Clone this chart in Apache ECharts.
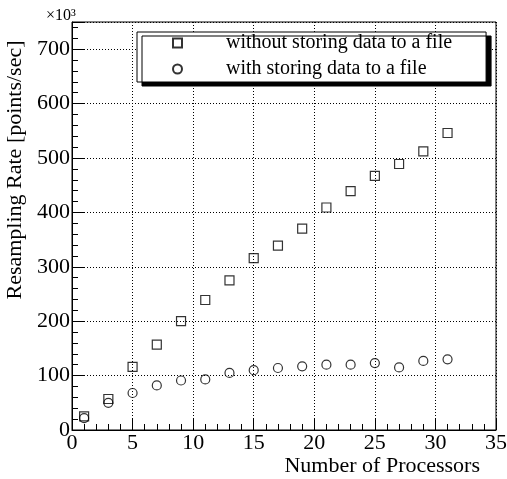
<!DOCTYPE html>
<html>
<head>
<meta charset="utf-8">
<script src="https://cdn.jsdelivr.net/npm/echarts@6/dist/echarts.min.js"></script>
<style>
  html, body { margin: 0; padding: 0; background: #fff; }
  #chart { width: 507px; height: 479px; }
</style>
</head>
<body>
<div id="chart"></div>
<script>
// number of processors used
const processors = [1, 3, 5, 7, 9, 11, 13, 15, 17, 19, 21, 23, 25, 27, 29, 31];

// resampling rate in units of 10^3 points/sec
const rateNoStore = [25, 57, 116, 157, 200, 239, 275, 316, 339, 370, 409, 439, 467, 489, 512, 546];
const rateStore = [22, 50, 68, 82, 91, 93, 105, 110, 114, 117, 120, 120, 123, 115, 127, 130];

const seriesNames = ['without storing data to a file', 'with storing data to a file'];

const font = 'Liberation Serif';

const chart = echarts.init(document.getElementById('chart'));

const toPairs = (ys) => processors.map((x, i) => [x, ys[i]]);

const markerStyle = {
  color: 'rgba(0,0,0,0)',
  borderColor: '#000',
  borderWidth: 1.2,
};

const option = {
  animation: false,
  backgroundColor: '#fff',
  title: {
    text: '×10³',
    left: 41,
    top: 3,
    textStyle: { fontFamily: font, fontSize: 16, fontWeight: 'normal', color: '#000' },
  },
  grid: {
    left: 72,
    right: 11,
    top: 22,
    bottom: 49,
    outerBoundsMode: 'none',
    containLabel: false,
    show: true,
    borderColor: '#000',
    borderWidth: 1,
  },
  legend: {
    orient: 'vertical',
    left: 137,
    top: 32,
    padding: [1, 34, 3, 35],
    itemGap: 6,
    itemWidth: 9,
    itemHeight: 9,
    backgroundColor: '#fff',
    borderColor: '#000',
    borderWidth: 1,
    shadowColor: '#000',
    shadowBlur: 0,
    shadowOffsetX: 5,
    shadowOffsetY: 4,
    textStyle: {
      fontFamily: font,
      fontSize: 20,
      color: '#000',
      lineHeight: 20,
      padding: [0, 0, 0, 39],
    },
    data: seriesNames,
  },
  xAxis: {
    type: 'value',
    min: 0,
    max: 35,
    interval: 5,
    name: 'Number of Processors',
    nameLocation: 'end',
    nameGap: -16,
    nameTextStyle: {
      fontFamily: font,
      fontSize: 22,
      color: '#000',
      align: 'right',
      verticalAlign: 'top',
      padding: [25, 0, 0, 0],
    },
    axisLine: { lineStyle: { color: '#000', width: 1 } },
    axisTick: { inside: true, length: 12, lineStyle: { color: '#000' } },
    minorTick: { show: true, splitNumber: 5, length: 6, lineStyle: { color: '#000' } },
    axisLabel: { fontFamily: font, fontSize: 22, color: '#000', margin: 2 },
    splitLine: { show: true, lineStyle: { color: '#000', type: [1, 2], width: 1 } },
  },
  yAxis: {
    type: 'value',
    min: 0,
    max: 750,
    interval: 100,
    name: 'Resampling Rate [points/sec]',
    nameLocation: 'middle',
    nameGap: 40,
    nameRotate: 90,
    nameTextStyle: {
      fontFamily: font,
      fontSize: 22,
      color: '#000',
      padding: [0, 0, 0, 112],
    },
    axisLine: { show: true, lineStyle: { color: '#000', width: 1 } },
    axisTick: { show: true, inside: true, length: 13, lineStyle: { color: '#000' } },
    minorTick: { show: true, splitNumber: 5, length: 6, lineStyle: { color: '#000' } },
    axisLabel: {
      fontFamily: font,
      fontSize: 22,
      color: '#000',
      margin: 2,
      showMaxLabel: false,
    },
    splitLine: { show: true, lineStyle: { color: '#000', type: [1, 2], width: 1 } },
  },
  series: [
    {
      name: seriesNames[0],
      type: 'scatter',
      symbol: 'rect',
      symbolSize: 9,
      itemStyle: markerStyle,
      data: toPairs(rateNoStore),
    },
    {
      name: seriesNames[1],
      type: 'scatter',
      symbol: 'circle',
      symbolSize: 9,
      itemStyle: markerStyle,
      data: toPairs(rateStore),
    },
  ],
};

chart.setOption(option);
</script>
</body>
</html>
